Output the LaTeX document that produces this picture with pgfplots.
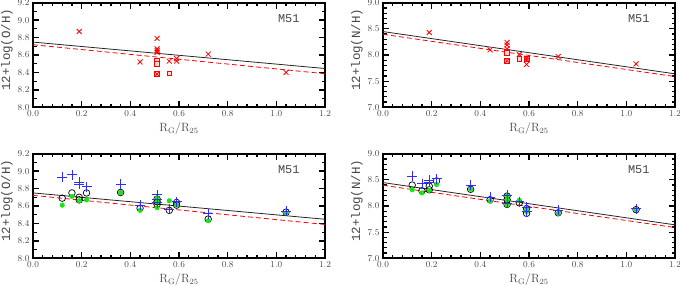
\documentclass[border=0pt]{standalone}
\usepackage{pgfplots}
\pgfplotsset{compat=1.18}
\usepackage{fontspec}
\newfontfamily\monof{Liberation Mono}
\definecolor{pblue}{RGB}{45,45,255}
\definecolor{pgreen}{RGB}{20,230,20}
\definecolor{txt}{RGB}{70,70,70}
\definecolor{pinkfill}{RGB}{255,215,215}
\pgfplotsset{
  panel/.style={
    scale only axis, width=292bp, height=104.6bp,
    xmin=0, xmax=1.2, xtick={0,0.2,...,1.2}, minor x tick num=4,
    tick pos=both, tick align=inside,
    major tick length=6bp, minor tick length=3.5bp,
    axis line style={line width=2pt},
    every tick/.style={black, line width=1.3pt},
    tick label style={font=\fontsize{9.5}{9.5}\selectfont, text=txt},
    xticklabel style={/pgf/number format/.cd, fixed, fixed zerofill, precision=1},
    yticklabel style={/pgf/number format/.cd, fixed, fixed zerofill, precision=1},
    xlabel={R\textsubscript{G}/R\textsubscript{25}},
    xlabel style={font=\fontsize{12}{12}\selectfont, text=txt, at={(axis description cs:0.5,0)}, anchor=center, yshift=-21bp},
    ylabel style={font=\monof\fontsize{12.5}{12.5}\selectfont, text=txt, at={(axis description cs:0,0.55)}, anchor=center, yshift=26bp},
  },
  oh/.style={panel, ymin=8.0, ymax=9.2, ytick={8.0,8.2,...,9.2}, minor y tick num=1, ylabel={12+log(O/H)}},
  nh/.style={panel, ymin=7.0, ymax=9.0, ytick={7.0,7.5,...,9.0}, minor y tick num=4, ylabel={12+log(N/H)}},
  blk/.style={black!85, line width=0.8pt},
  rdash/.style={red, line width=0.8pt, dash pattern=on 5bp off 3bp},
  crs/.style={only marks, mark=x, mark size=3.5bp, color=red, mark options={draw=red, line width=0.8pt}},
  rsqs/.style={only marks, mark=square*, mark size=2.4bp, color=red, fill=pinkfill, mark options={draw=red, fill=pinkfill, line width=0.7pt}},
  pls/.style={only marks, mark=+, mark size=5bp, color=pblue, mark options={draw=pblue, line width=0.8pt}},
  circ/.style={only marks, mark=o, mark size=3.3bp, color=black, mark options={draw=black, fill=none, line width=0.7pt}},
  grn/.style={only marks, mark=*, mark size=2.3bp, color=pgreen, mark options={draw=pgreen, fill=pgreen}},
}
\newcommand{\mlabel}{\node[anchor=east, font=\monof\fontsize{12}{12}\selectfont, text=txt] at (rel axis cs:0.925,0.845) {M51};}
\begin{document}
\begin{tikzpicture}
\useasboundingbox (0,0) rectangle (680bp,285bp);
% top-left
\begin{axis}[oh, anchor=south west, at={(33bp,177.7bp)}]
\addplot[blk] coordinates {(0,8.748) (1.2,8.445)};
\addplot[rdash] coordinates {(0,8.718) (1.2,8.385)};
\addplot[rsqs] coordinates {(0.51,8.53) (0.51,8.50) (0.51,8.38) (0.56,8.39)};
\addplot[crs] coordinates {(0.19,8.87) (0.44,8.52) (0.51,8.79) (0.51,8.67) (0.51,8.65) (0.51,8.63) (0.51,8.38) (0.56,8.53) (0.59,8.56) (0.59,8.53) (0.72,8.61) (1.04,8.40)};
\mlabel
\end{axis}
% top-right
\begin{axis}[nh, anchor=south west, at={(383bp,177.7bp)}]
\addplot[blk] coordinates {(0,8.448) (1.2,7.64)};
\addplot[rdash] coordinates {(0,8.396) (1.2,7.588)};
\addplot[rsqs] coordinates {(0.51,8.07) (0.51,8.04) (0.51,7.89) (0.56,7.93) (0.59,7.93)};
\addplot[crs] coordinates {(0.19,8.43) (0.44,8.10) (0.51,8.24) (0.51,8.19) (0.51,8.12) (0.51,7.89) (0.56,8.01) (0.59,7.94) (0.59,7.90) (0.59,7.82) (0.72,7.97) (1.04,7.83)};
\mlabel
\end{axis}
% bottom-left
\begin{axis}[oh, anchor=south west, at={(33bp,26.7bp)}]
\addplot[blk] coordinates {(0,8.75) (1.2,8.448)};
\addplot[rdash] coordinates {(0,8.722) (1.2,8.388)};
\addplot[circ] coordinates {(0.12,8.69) (0.16,8.75) (0.19,8.70) (0.19,8.67) (0.22,8.75) (0.36,8.755) (0.44,8.575) (0.51,8.68) (0.51,8.65) (0.51,8.62) (0.56,8.55) (0.59,8.64) (0.59,8.61) (0.72,8.45) (1.04,8.53)};
\addplot[grn] coordinates {(0.12,8.61) (0.16,8.71) (0.19,8.66) (0.22,8.67) (0.36,8.755) (0.44,8.55) (0.51,8.69) (0.51,8.65) (0.51,8.58) (0.56,8.66) (0.59,8.61) (0.72,8.43) (1.04,8.52)};
\addplot[pls] coordinates {(0.12,8.93) (0.16,8.96) (0.19,8.87) (0.19,8.85) (0.22,8.82) (0.36,8.85) (0.44,8.61) (0.51,8.73) (0.51,8.68) (0.51,8.64) (0.56,8.56) (0.59,8.65) (0.72,8.51) (1.04,8.54)};
\mlabel
\end{axis}
% bottom-right
\begin{axis}[nh, anchor=south west, at={(383bp,26.7bp)}]
\addplot[blk] coordinates {(0,8.448) (1.2,7.64)};
\addplot[rdash] coordinates {(0,8.396) (1.2,7.588)};
\addplot[circ] coordinates {(0.12,8.40) (0.16,8.29) (0.19,8.38) (0.19,8.31) (0.22,8.48) (0.36,8.32) (0.44,8.12) (0.51,8.19) (0.51,8.12) (0.51,8.03) (0.56,8.06) (0.59,7.95) (0.59,7.86) (0.72,7.87) (1.04,7.93)};
\addplot[grn] coordinates {(0.12,8.31) (0.16,8.25) (0.19,8.30) (0.22,8.41) (0.36,8.32) (0.44,8.09) (0.51,8.19) (0.51,8.12) (0.51,8.02) (0.56,8.11) (0.59,7.95) (0.59,7.89) (0.72,7.86) (1.04,7.93)};
\addplot[pls] coordinates {(0.12,8.57) (0.16,8.43) (0.19,8.49) (0.19,8.45) (0.22,8.52) (0.36,8.40) (0.44,8.17) (0.51,8.21) (0.51,8.05) (0.56,8.08) (0.59,7.98) (0.59,7.89) (0.72,7.92) (1.04,7.95)};
\mlabel
\end{axis}
\end{tikzpicture}
\end{document}
